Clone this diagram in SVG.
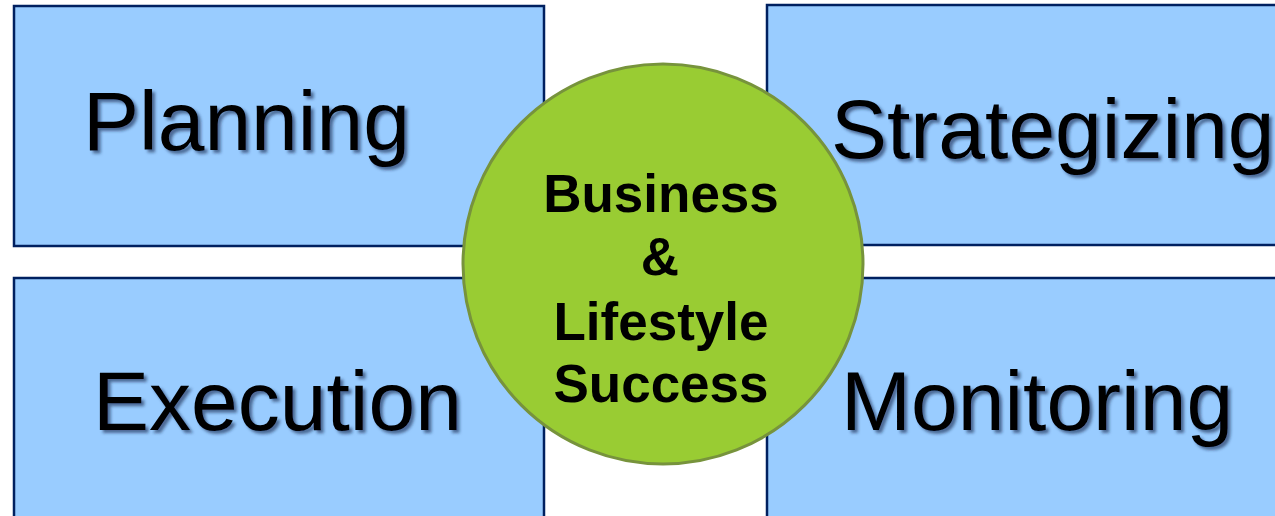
<svg xmlns="http://www.w3.org/2000/svg" width="1275" height="516" viewBox="0 0 1275 516">
<defs>
<filter id="sh" x="-10%" y="-10%" width="120%" height="130%">
<feGaussianBlur in="SourceAlpha" stdDeviation="1.5"/>
<feOffset dx="3" dy="3" result="b"/>
<feFlood flood-color="#1a2a50" flood-opacity="0.6"/>
<feComposite in2="b" operator="in"/>
<feMerge><feMergeNode/><feMergeNode in="SourceGraphic"/></feMerge>
</filter>
</defs>
<style>
.box{fill:#99CCFF;stroke:#002060;stroke-width:2.5}
.lbl{font-family:"Liberation Sans",Arial,sans-serif;font-size:84px;fill:#000;filter:url(#sh)}
.ctr{font-family:"Liberation Sans",Arial,sans-serif;font-size:53px;font-weight:bold;fill:#000;text-anchor:middle}
</style>
<rect width="1275" height="516" fill="#fff"/>
<g id="planning"><rect class="box" x="14" y="6" width="530" height="240"/><text class="lbl" x="83" y="150">Planning</text></g>
<g id="strategizing"><rect class="box" x="767" y="5" width="520" height="240"/><text class="lbl" x="831" y="158">Strategizing</text></g>
<g id="execution"><rect class="box" x="14" y="278" width="530" height="250"/><text class="lbl" x="93" y="430">Execution</text></g>
<g id="monitoring"><rect class="box" x="767" y="278" width="520" height="250"/><text class="lbl" x="841" y="430">Monitoring</text></g>
<g id="connectors"></g>
<g id="center"><circle cx="663" cy="264" r="200" fill="#99CC33" stroke="#77933C" stroke-width="3"/>
<text class="ctr" x="661" y="212">Business</text>
<text class="ctr" x="660" y="275">&amp;</text>
<text class="ctr" x="661" y="340">Lifestyle</text>
<text class="ctr" x="661" y="402">Success</text></g>
</svg>
